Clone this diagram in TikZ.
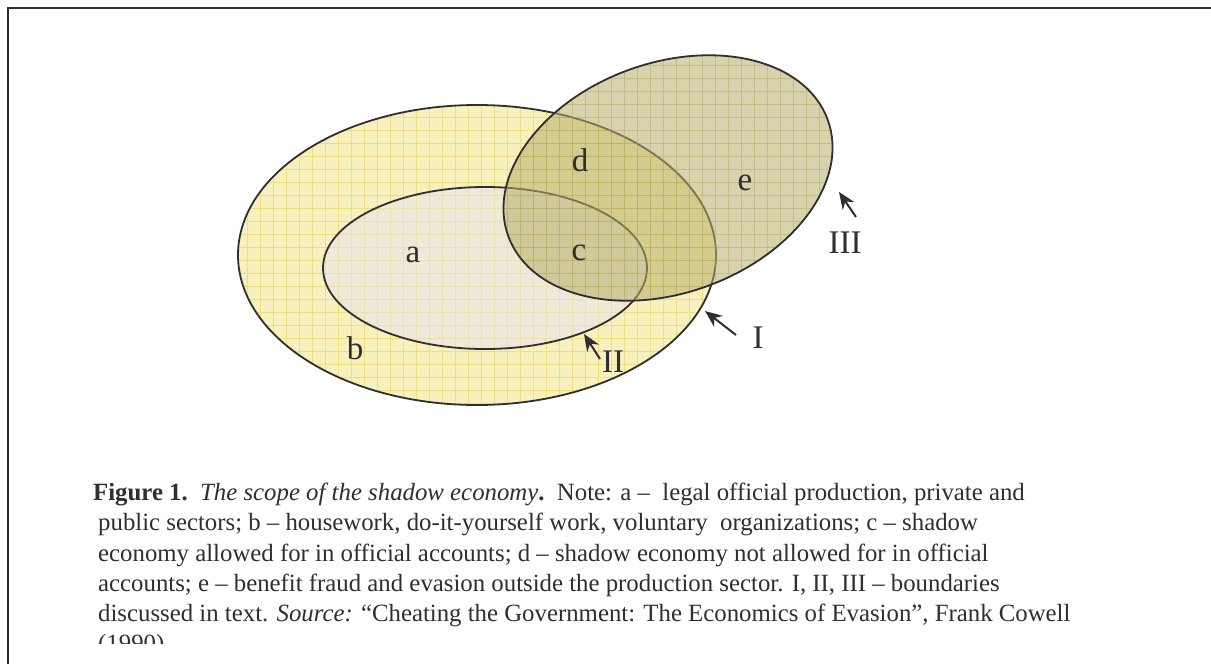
\documentclass[tikz,border=0pt]{standalone}
\usepackage{fontspec}
\setmainfont{Liberation Serif}
\usetikzlibrary{arrows.meta}
\definecolor{yelfill}{HTML}{F8F1BD}
\definecolor{yelgrid}{HTML}{EEDF80}
\definecolor{afill}{HTML}{EEE9D8}
\definecolor{agrid}{HTML}{EAE1B0}
\definecolor{olive}{HTML}{B8AF68}
\definecolor{olivegrid}{HTML}{A89C50}
\definecolor{edge}{HTML}{2E2E33}
\tikzset{
  rim/.style={draw=edge, line width=1.8pt},
  lbl/.style={font=\fontsize{33}{38}\selectfont, text=edge, inner sep=0pt},
  ptr/.style={draw=edge, line width=2pt, -{Stealth[length=17pt,width=14pt]}},
  captxt/.style={font=\fontsize{24.8}{30}\selectfont, text=edge, anchor=base west, inner sep=0pt},
}
\begin{document}
\begin{tikzpicture}[x=1pt,y=-1pt]
\useasboundingbox (0,0) rectangle (1211,664);
\fill[white] (0,0) rectangle (1211,664);
% frame
\draw[edge, line width=2.4pt] (8,664) -- (8,8) -- (1211,8);
% outer ellipse I
\fill[yelfill] (477,255) ellipse [x radius=239pt, y radius=150pt];
\begin{scope}
  \clip (477,255) ellipse [x radius=239pt, y radius=150pt];
  \draw[yelgrid, line width=0.9pt, step=13pt] (230,100) grid (720,410);
\end{scope}
\draw[rim] (477,255) ellipse [x radius=239pt, y radius=150pt];
% inner ellipse II
\fill[afill] (485,268) ellipse [x radius=162pt, y radius=81pt];
\begin{scope}
  \clip (485,268) ellipse [x radius=162pt, y radius=81pt];
  \draw[agrid, line width=0.6pt, step=13pt] (320,185) grid (650,352);
\end{scope}
\draw[rim] (485,268) ellipse [x radius=162pt, y radius=81pt];
% tilted ellipse III
\begin{scope}[rotate around={20:(668,178)}]
  \fill[olive, fill opacity=0.55] (668,178) ellipse [x radius=170pt, y radius=115pt];
  \begin{scope}
    \clip (668,178) ellipse [x radius=170pt, y radius=115pt];
    \draw[olivegrid, opacity=0.4, line width=0.9pt, rotate around={-20:(668,178)}, step=13pt] (480,40) grid (860,320);
  \end{scope}
  \draw[rim] (668,178) ellipse [x radius=170pt, y radius=115pt];
\end{scope}
% region labels
\node[lbl] (la) at (413,255) {a};
\node[lbl] (lb) at (355,348) {b};
\node[lbl] (lc) at (579,253) {c};
\node[lbl] (ld) at (580,160) {d};
\node[lbl] (le) at (745,183) {e};
% boundary labels and pointers
\node[lbl] (lII) at (613,362) {II};
\node[lbl] (lI) at (758,338) {I};
\node[lbl] (lIII) at (845,243) {III};
\coordinate (tII) at (600,359);
\coordinate (hII) at (584,334);
\coordinate (tI) at (736,335);
\coordinate (hI) at (705,311);
\coordinate (tIII) at (856,217);
\coordinate (hIII) at (839,192);
\draw[ptr] (tII) -- (hII);
\draw[ptr] (tI) -- (hI);
\draw[ptr] (tIII) -- (hIII);
% caption
\begin{scope}
\clip (0,0) rectangle (1211,643);
\node[captxt] (c1) at (93,500) {\textbf{Figure 1.}\ \ \textit{The scope of the shadow economy}\textbf{.}\ \ Note: a --\ \ legal official production, private and};
\node[captxt] (c2) at (98,530) {public sectors; b -- housework, do-it-yourself work, voluntary\ \ organizations; c -- shadow};
\node[captxt] (c3) at (98,561) {economy allowed for in official accounts; d -- shadow economy not allowed for in official};
\node[captxt] (c4) at (98,591) {accounts; e -- benefit fraud and evasion outside the production sector. I, II, III -- boundaries};
\node[captxt] (c5) at (98,621) {discussed in text. \textit{Source:} ``Cheating the Government: The Economics of Evasion'', Frank Cowell};
\node[captxt] (c6) at (98,651) {(1990)};
\end{scope}
\end{tikzpicture}
\end{document}
